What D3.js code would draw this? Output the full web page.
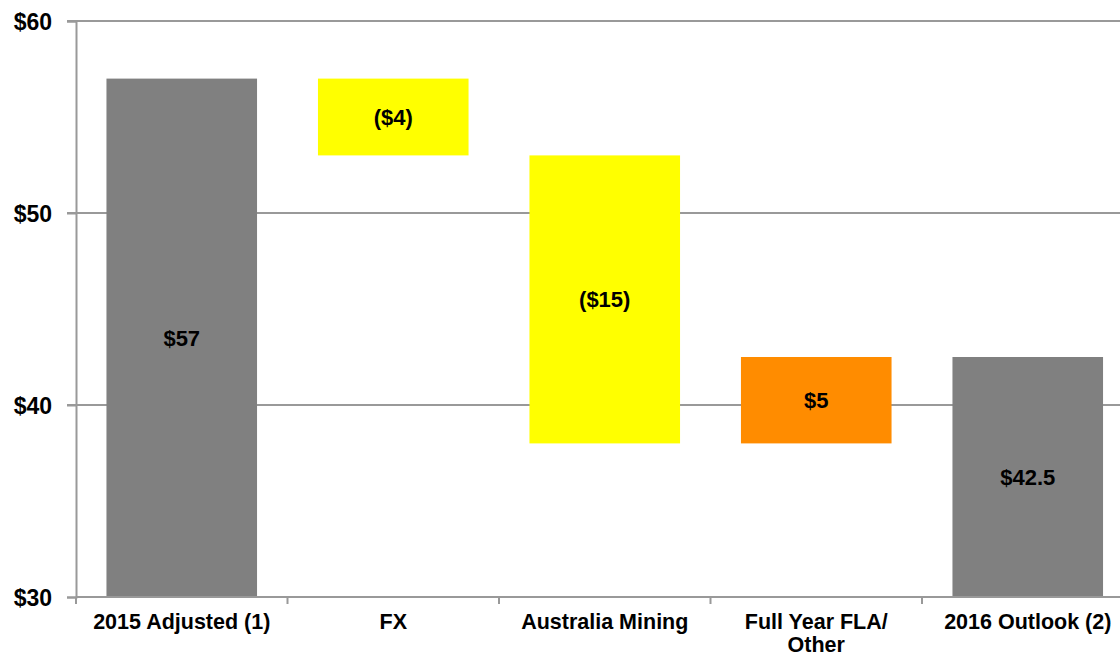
<!DOCTYPE html>
<html>
<head>
<meta charset="utf-8">
<script src="https://cdn.jsdelivr.net/npm/d3@7"></script>
<style>
  html, body { margin: 0; padding: 0; background: #fff; overflow: hidden; }
  svg { display: block; font-family: "Liberation Sans", Arial, sans-serif; }
</style>
</head>
<body>
<svg id="chart" width="1120" height="658"></svg>
<script>
// Waterfall: 2015 adjusted result bridged to the 2016 outlook
const categories = ["2015 Adjusted (1)", "FX", "Australia Mining", "Full Year FLA/ Other", "2016 Outlook (2)"];
const categoryLines = [["2015 Adjusted (1)"], ["FX"], ["Australia Mining"], ["Full Year FLA/", "Other"], ["2016 Outlook (2)"]];
const stepValues = [57, -4, -15, 4.5, 42.5];
const stepKinds = ["total", "delta", "delta", "delta", "total"];
const valueLabels = ["$57", "($4)", "($15)", "$5", "$42.5"];
const yTicks = [30, 40, 50, 60];
const yTickLabels = ["$30", "$40", "$50", "$60"];

const fillFor = (kind, v) => kind === "total" ? "#808080" : (v < 0 ? "#FFFF00" : "#FF8C00");

// running start/end for each step
let running = 0;
const bars = categories.map((c, i) => {
  const v = stepValues[i], kind = stepKinds[i];
  let lo, hi;
  if (kind === "total") { running = v; lo = 30; hi = v; }
  else { const start = running; running = start + v; lo = Math.min(start, running); hi = Math.max(start, running); }
  return { cat: c, lines: categoryLines[i], lo, hi, fill: fillFor(kind, v), label: valueLabels[i] };
});

const svg = d3.select("#chart");
const plotLeft = 76, plotTop = 21, plotBottom = 597, band = 211.5;

const x = d3.scaleBand().domain(categories).range([plotLeft, plotLeft + band * categories.length]).paddingInner(0.288).paddingOuter(0.144);
const y = d3.scaleLinear().domain([30, 60]).range([plotBottom, plotTop]);

// horizontal gridlines
svg.append("g").selectAll("line").data(yTicks.filter(t => t > 30)).join("line")
  .attr("x1", plotLeft - 9).attr("x2", 1120)
  .attr("y1", d => y(d)).attr("y2", d => y(d))
  .attr("stroke", "#999").attr("stroke-width", 2);

// bars
svg.append("g").selectAll("rect").data(bars).join("rect")
  .attr("x", d => x(d.cat)).attr("width", x.bandwidth())
  .attr("y", d => y(d.hi)).attr("height", d => y(d.lo) - y(d.hi))
  .attr("fill", d => d.fill);

// value labels centred in each bar
svg.append("g").selectAll("text").data(bars).join("text")
  .attr("x", d => x(d.cat) + x.bandwidth() / 2)
  .attr("y", d => (y(d.lo) + y(d.hi)) / 2)
  .attr("dy", "0.36em")
  .attr("text-anchor", "middle")
  .attr("font-size", 22).attr("font-weight", "bold").attr("fill", "#000")
  .text(d => d.label);

// y axis
const yAxis = svg.append("g").attr("transform", `translate(${plotLeft},0)`)
  .call(d3.axisLeft(y).tickValues(yTicks).tickSize(9).tickFormat((d, i) => yTickLabels[i]));
yAxis.select(".domain").attr("stroke", "#999").attr("stroke-width", 2);
yAxis.selectAll(".tick line").attr("stroke", "#999").attr("stroke-width", 2);
yAxis.selectAll(".tick text").attr("x", -24).attr("dy", "0.35em")
  .attr("font-size", 23).attr("font-weight", "bold").attr("fill", "#000")
  .attr("font-family", "Liberation Sans, Arial, sans-serif");

// x axis with ticks at band boundaries
const xg = svg.append("g");
xg.append("line").attr("x1", plotLeft).attr("x2", 1120).attr("y1", plotBottom).attr("y2", plotBottom)
  .attr("stroke", "#999").attr("stroke-width", 2);
const bounds = d3.range(categories.length + 1).map(i => plotLeft + i * band);
xg.selectAll("line.tk").data(bounds).join("line").attr("class", "tk")
  .attr("x1", d => d).attr("x2", d => d).attr("y1", plotBottom).attr("y2", plotBottom + 7)
  .attr("stroke", "#999").attr("stroke-width", 2);

const lab = xg.selectAll("text").data(bars).join("text")
  .attr("text-anchor", "middle")
  .attr("font-size", 21.5).attr("font-weight", "bold").attr("fill", "#000")
  .attr("transform", d => `translate(${x(d.cat) + x.bandwidth() / 2},629)`);
lab.selectAll("tspan").data(d => d.lines).join("tspan")
  .attr("x", 0).attr("y", (d, i) => i * 23).text(d => d);
</script>
</body>
</html>
